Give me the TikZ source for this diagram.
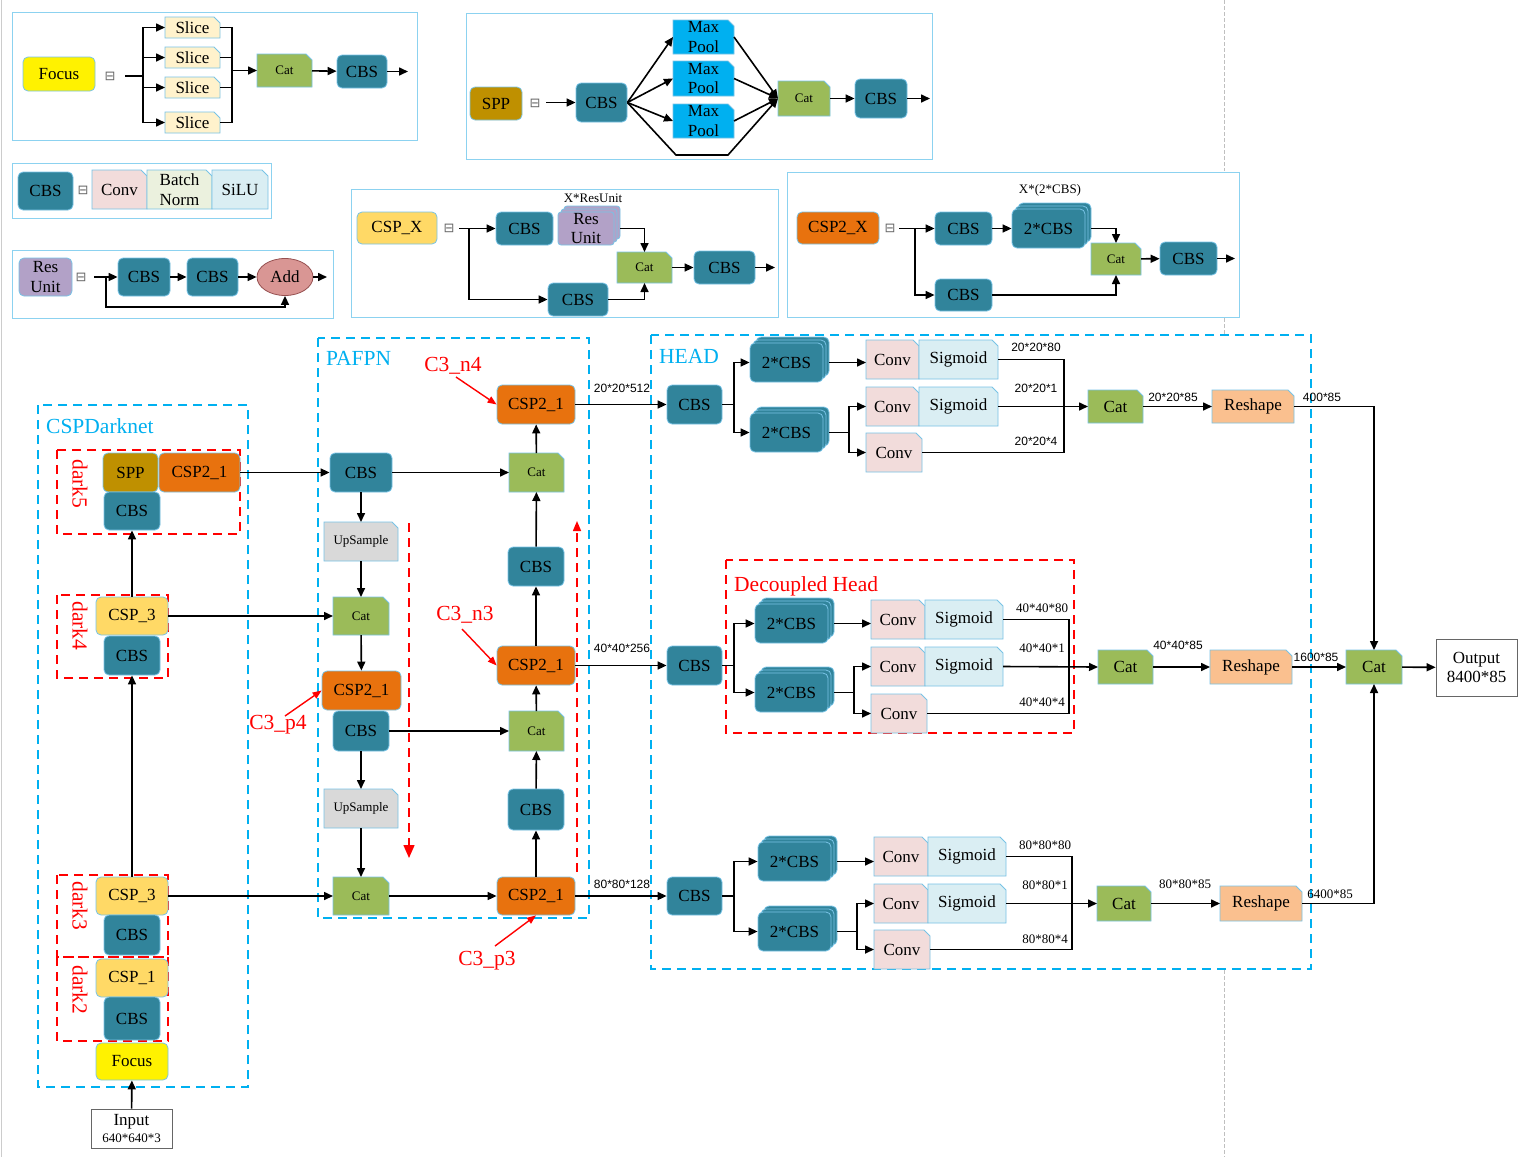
\documentclass[tikz,border=0pt]{standalone}
\usepackage{fontspec}
\setmainfont{Liberation Serif}
\newfontfamily\dimsans{Liberation Sans}
\newfontfamily\symfont{DejaVu Sans}
\usetikzlibrary{arrows.meta,shapes.geometric,calc}
\definecolor{cbsc}{RGB}{49,132,155}
\definecolor{catc}{RGB}{155,187,89}
\definecolor{slicec}{RGB}{255,242,204}
\definecolor{convc}{RGB}{242,220,219}
\definecolor{bnc}{RGB}{235,241,222}
\definecolor{sigc}{RGB}{218,238,243}
\definecolor{resc}{RGB}{178,161,199}
\definecolor{addc}{RGB}{217,150,148}
\definecolor{addb}{RGB}{150,80,80}
\definecolor{sppc}{RGB}{191,144,0}
\definecolor{mpc}{RGB}{0,176,240}
\definecolor{cspc}{RGB}{255,217,102}
\definecolor{csptwoc}{RGB}{232,114,14}
\definecolor{rshc}{RGB}{250,192,143}
\definecolor{upc}{RGB}{217,217,217}
\definecolor{dblue}{RGB}{0,176,240}
\definecolor{edgeb}{RGB}{120,195,230}
\definecolor{legb}{RGB}{140,210,240}
\newcommand\fm{\fontsize{17}{19.5}\selectfont}
\newcommand\fsm{\fontsize{13}{14}\selectfont}
\newcommand\fl{\fontsize{21.5}{23}\selectfont}
\tikzset{
 base/.style={draw=edgeb,line width=0.8pt,inner sep=1pt,align=center,font=\fm},
 cbs/.style={base,rounded corners=5pt,fill=cbsc},
 rbox/.style={base,rounded corners=5pt},
 arr/.style={line width=1.6pt,-{Triangle[length=9pt,width=8pt]}},
 ln/.style={line width=1.6pt},
 legbox/.style={draw=legb,line width=1pt},
 bdash/.style={draw=dblue,line width=1.5pt,dash pattern=on 9pt off 6pt},
 rdash/.style={draw=red,line width=1.5pt,dash pattern=on 9pt off 6pt},
 eqs/.style={font=\symfont\fontsize{13}{13}\selectfont,text=black!60,inner sep=0pt},
 dimlab/.style={font=\dimsans\fontsize{12}{13}\selectfont,inner sep=0pt},
 dimser/.style={font=\fontsize{13}{14}\selectfont,inner sep=0pt},
 bluelab/.style={text=dblue,font=\fl,inner sep=0pt,anchor=west},
 redlab/.style={text=red,font=\fl,inner sep=0pt},
 rarr/.style={draw=red,line width=1.4pt,-{Triangle[length=9pt,width=7pt]}},
}
% box node by corners
\newcommand\bx[7]{\node[#2,minimum width={#5-#3},minimum height={#6-#4}] (#1) at ({(#3+#5)/2},{(#4+#6)/2}) {#7};}
% card (folded corner) by corners
\newcommand\cd[8]{%
 \filldraw[fill=#2,draw=edgeb,line width=0.8pt] (#4,#5) -- ({#6-6},#5) -- (#6,{#5+6}) -- (#6,#7) -- (#4,#7) -- cycle;
 \node[inner sep=0pt,outer sep=0pt,align=center,font=#3,minimum width={#6-#4},minimum height={#7-#5}] (#1) at ({(#4+#6)/2},{(#5+#7)/2}) {#8};}
% stacked boxes
\newcommand\stk[7]{%
 \pgfmathsetmacro\stkw{#5-#3-6}\pgfmathsetmacro\stkh{#6-#4-6}%
 \pgfmathsetmacro\stkx{(#3+#5-6)/2}\pgfmathsetmacro\stky{(#4+#6+6)/2}%
 \node[#2,minimum width=\stkw pt,minimum height=\stkh pt] at (\stkx+6,\stky-6) {};
 \node[#2,minimum width=\stkw pt,minimum height=\stkh pt] at (\stkx+3,\stky-3) {};
 \node[#2,minimum width=\stkw pt,minimum height=\stkh pt] (#1) at (\stkx,\stky) {#7};
 \coordinate (#1-e) at (#5,\stky);}
\begin{document}
\begin{tikzpicture}[x=1pt,y=-1pt]
\fill[white] (0,0) rectangle (1523,1157);
\useasboundingbox (0,0) rectangle (1523,1157);
% page guide lines
\draw[black!20,line width=0.6pt] (1.5,0) -- (1.5,1157);
\draw[black!25,line width=0.6pt,dash pattern=on 4pt off 2pt] (1224,0) -- (1224,171);
\draw[black!25,line width=0.6pt,dash pattern=on 4pt off 2pt] (1224,318) -- (1224,334);
\draw[black!25,line width=0.6pt,dash pattern=on 4pt off 2pt] (1224,970) -- (1224,1157);

% ================= Focus legend
\draw[legbox] (12,12) rectangle (417,140);
\bx{lfoc}{rbox,fill=yellow}{23}{57}{95}{91}{Focus}
\node[eqs] (eq1) at (110,76) {⊟};
\coordinate (f0) at (125,76); \coordinate (fj) at (143,76);
\cd{sl1}{slicec}{\fm}{165}{17}{220}{38}{Slice}
\cd{sl2}{slicec}{\fm}{165}{47}{220}{68}{Slice}
\cd{sl3}{slicec}{\fm}{165}{77}{220}{98}{Slice}
\cd{sl4}{slicec}{\fm}{165}{112}{220}{133}{Slice}
\cd{lcat}{catc}{\fsm}{257}{54}{312}{87}{Cat}
\bx{lcbs}{cbs}{337}{55}{387}{88}{CBS}
\coordinate (sj) at (232,70.5); \coordinate (lout) at (408,71.5);
\draw[ln] (f0) -- (fj);
\foreach \s in {sl1,sl2,sl3,sl4} {\draw[arr] (fj) |- (\s.west); \draw[ln] (\s.east) -| (sj);}
\draw[arr] (sj) -- (lcat);
\draw[arr] (lcat) -- (lcbs);
\draw[arr] (lcbs) -- (lout);

% ================= CBS legend
\draw[legbox] (12,163) rectangle (271,218);
\bx{lc}{cbs}{18}{172}{73}{210}{CBS}
\node[eqs] (eq2) at (83,190) {⊟};
\cd{lconv}{convc}{\fm}{92}{170}{147}{209}{Conv}
\cd{lbn}{bnc}{\fm}{147}{170}{212}{209}{Batch\\Norm}
\cd{lsilu}{sigc}{\fm}{212}{170}{268}{209}{SiLU}

% ================= ResUnit legend
\draw[legbox] (12,250) rectangle (333,318);
\bx{lres}{rbox,fill=resc}{19}{258}{72}{296}{Res\\Unit}
\node[eqs] (eq3) at (81,277) {⊟};
\coordinate (rs) at (94,277); \coordinate (rj) at (106,277); \coordinate (rb) at (106,307);
\bx{rc1}{cbs}{118}{258}{170}{296}{CBS}
\bx{rc2}{cbs}{187}{258}{238}{296}{CBS}
\node[ellipse,draw=addb,fill=addc,line width=0.8pt,minimum width=56pt,minimum height=37pt,inner sep=0pt,font=\fm] (add) at (285,277) {Add};
\coordinate (rout) at (327,277);
\draw[arr] (rs) -- (rc1);
\draw[arr] (rc1) -- (rc2);
\draw[arr] (rc2) -- (add);
\draw[arr] (add) -- (rout);
\draw[arr] (rj) -- (rb) -| (add.south);

% ================= SPP legend
\draw[legbox] (466,13) rectangle (932,159);
\bx{lspp}{rbox,fill=sppc}{470}{87}{522}{120}{SPP}
\node[eqs] (eq4) at (535,103) {⊟};
\coordinate (sp0) at (546,102.5);
\bx{spc1}{cbs}{576}{83}{627}{122}{CBS}
\cd{mp1}{mpc}{\fm}{673}{20}{734}{54}{Max\\Pool}
\cd{mp2}{mpc}{\fm}{673}{61}{734}{96}{Max\\Pool}
\cd{mp3}{mpc}{\fm}{673}{104}{734}{138}{Max\\Pool}
\cd{spcat}{catc}{\fsm}{778}{81}{830}{116}{Cat}
\bx{spc2}{cbs}{855}{79}{907}{118}{CBS}
\coordinate (spo) at (930,98.5);
\coordinate (spb1) at (676,155); \coordinate (spb2) at (728,155);
\draw[arr] (sp0) -- (spc1);
\foreach \m in {mp1,mp2,mp3} {\draw[arr] (spc1.east) -- (\m.west); \draw[arr] (\m.east) -- (spcat.west);}
\draw[arr] (spc1.east) -- (spb1) -- (spb2) -- (spcat.west);
\draw[arr] (spcat) -- (spc2);
\draw[arr] (spc2) -- (spo);

% ================= CSP_X legend
\draw[legbox] (351,189) rectangle (778,317);
\bx{lcsp}{rbox,fill=cspc}{357}{212}{437}{244}{CSP\_X}
\node[eqs] (eq5) at (449,228) {⊟};
\coordinate (cx0) at (459,228.5); \coordinate (cxj) at (469,228.5);
\bx{cxc1}{cbs}{496}{212}{553}{245}{CBS}
\stk{cxres}{rbox,fill=resc,rounded corners=3pt}{558}{206}{620}{245}{Res\\Unit}
\node[font=\fsm,inner sep=0pt] (cxlab) at (593,198) {X*ResUnit};
\cd{cxcat}{catc}{\fsm}{617}{252}{672}{283}{Cat}
\bx{cxc2}{cbs}{548}{283}{608}{316}{CBS}
\bx{cxc3}{cbs}{694}{251}{755}{284}{CBS}
\coordinate (cxo) at (775,267.5);
\draw[ln] (cx0) -- (cxj);
\draw[arr] (cxj) -- (cxc1);
\draw[arr] (cxres-e) -| (cxcat.north);
\draw[arr] (cxj) |- (cxc2.west);
\draw[arr] (cxc2.east) -| (cxcat.south);
\draw[arr] (cxcat) -- (cxc3);
\draw[arr] (cxc3) -- (cxo);

% ================= CSP2_X legend
\draw[legbox] (787,172) rectangle (1239,317);
\bx{lcsp2}{rbox,fill=csptwoc}{797}{212}{879}{244}{CSP2\_X}
\node[eqs] (eq6) at (890,228) {⊟};
\coordinate (c20) at (899,228.5); \coordinate (c2j) at (915,228.5);
\bx{c2c1}{cbs}{935}{212}{992}{245}{CBS}
\stk{c2st}{cbs}{1012}{203}{1091}{248}{2*CBS}
\node[font=\fsm,inner sep=0pt] (c2lab) at (1050,190) {X*(2*CBS)};
\cd{c2cat}{catc}{\fsm}{1091}{243}{1141}{275}{Cat}
\bx{c2c2}{cbs}{935}{279}{992}{311}{CBS}
\bx{c2c3}{cbs}{1160}{242}{1217}{275}{CBS}
\coordinate (c2o) at (1235,258.5);
\draw[ln] (c20) -- (c2j);
\draw[arr] (c2j) -- (c2c1);
\draw[arr] (c2c1) -- (c2c1 -| c2st.west);
\draw[arr] (c2st-e) -| (c2cat.north);
\draw[arr] (c2j) |- (c2c2.west);
\draw[arr] (c2c2.east) -| (c2cat.south);
\draw[arr] (c2cat) -- (c2c3);
\draw[arr] (c2c3) -- (c2o);

% ================= CSPDarknet
\draw[bdash] (38,405) rectangle (248,1087);
\node[bluelab] (tcsp) at (46,426) {CSPDarknet};
\draw[rdash] (57,450) rectangle (240,534);
\draw[rdash] (57,595) rectangle (168,678);
\draw[rdash] (57,875) rectangle (168,957);
\draw[rdash] (57,957) rectangle (168,1041);
\node[redlab,rotate=-90] (dk5) at (80,484) {dark5};
\node[redlab,rotate=-90] (dk4) at (80,626) {dark4};
\node[redlab,rotate=-90] (dk3) at (80,906) {dark3};
\node[redlab,rotate=-90] (dk2) at (80,990) {dark2};
\bx{d5spp}{rbox,fill=sppc}{103}{453}{158}{492}{SPP}
\bx{d5csp}{rbox,fill=csptwoc}{159}{453}{240}{492}{CSP2\_1}
\bx{d5cbs}{cbs}{104}{492}{160}{530}{CBS}
\bx{d4csp}{rbox,fill=cspc}{96}{597}{168}{635}{CSP\_3}
\bx{d4cbs}{cbs}{104}{636}{160}{675}{CBS}
\bx{d3csp}{rbox,fill=cspc}{96}{877}{168}{915}{CSP\_3}
\bx{d3cbs}{cbs}{104}{915}{160}{955}{CBS}
\bx{d2csp}{rbox,fill=cspc}{96}{959}{168}{997}{CSP\_1}
\bx{d2cbs}{cbs}{104}{997}{160}{1040}{CBS}
\bx{foc}{rbox,fill=yellow}{96}{1043}{168}{1080}{Focus}
\node[draw=black!60,line width=0.8pt,inner sep=1pt,align=center,minimum width=81pt,minimum height=39pt,font=\fm] (inp) at (131.5,1128.5) {Input\\[-3pt]{\fsm 640*640*3}};
\draw[arr] (inp) -- (foc);
\draw[arr] (d3csp) -- (d4cbs);
\draw[arr] (d4csp) -- (d5cbs);

% ================= PAFPN
\draw[bdash] (318,338) rectangle (589,918);
\node[bluelab] (tpaf) at (326,358) {PAFPN};
\bx{pc1}{cbs}{330}{453}{392}{492}{CBS}
\cd{pu1}{upc}{\fsm}{324}{522}{398}{561}{UpSample}
\cd{pcat1}{catc}{\fsm}{333}{597}{389}{635}{Cat}
\bx{pcsp1}{rbox,fill=csptwoc}{322}{671}{401}{710}{CSP2\_1}
\bx{pc2}{cbs}{333}{711}{389}{751}{CBS}
\cd{pu2}{upc}{\fsm}{324}{789}{398}{828}{UpSample}
\cd{pcat2}{catc}{\fsm}{333}{877}{389}{915}{Cat}
\bx{nc4}{rbox,fill=csptwoc}{497}{385}{575}{424}{CSP2\_1}
\cd{ncat4}{catc}{\fsm}{509}{453}{564}{492}{Cat}
\bx{ncbs4}{cbs}{508}{547}{564}{586}{CBS}
\bx{nc3}{rbox,fill=csptwoc}{497}{646}{575}{685}{CSP2\_1}
\cd{ncat3}{catc}{\fsm}{509}{711}{564}{751}{Cat}
\bx{ncbs3}{cbs}{508}{789}{564}{830}{CBS}
\bx{np3}{rbox,fill=csptwoc}{497}{877}{575}{915}{CSP2\_1}
\draw[arr] (d5csp) -- (pc1);
\draw[arr] (d4csp) -- (pcat1);
\draw[arr] (d3csp) -- (pcat2);
\draw[arr] (pc1) -- (pu1);
\draw[arr] (pu1) -- (pcat1);
\draw[arr] (pcat1) -- (pcsp1);
\draw[arr] (pc2) -- (pu2);
\draw[arr] (pu2) -- (pcat2);
\draw[arr] (pc1) -- (ncat4);
\draw[arr] (pc2) -- (ncat3);
\draw[arr] (pcat2) -- (np3);
\draw[arr] (np3) -- (ncbs3);
\draw[arr] (ncbs3) -- (ncat3);
\draw[arr] (ncat3) -- (nc3);
\draw[arr] (nc3) -- (ncbs4);
\draw[arr] (ncbs4) -- (ncat4);
\draw[arr] (ncat4) -- (nc4);
\coordinate (rd1a) at (409,523); \coordinate (rd1b) at (409,858);
\coordinate (rd2a) at (577,872); \coordinate (rd2b) at (577,521);
\draw[rdash,-{Triangle[length=13pt,width=11pt]}] (rd1a) -- (rd1b);
\draw[rdash,-{Triangle[length=10pt,width=8pt]}] (rd2a) -- (rd2b);
\node[redlab] (ln4) at (453,366) {C3\_n4};
\node[redlab] (ln3) at (465,615) {C3\_n3};
\node[redlab] (lp4) at (278,725) {C3\_p4};
\node[redlab] (lp3) at (487,961) {C3\_p3};
\coordinate (ln4s) at (456,377); \coordinate (ln3s) at (462,629);
\coordinate (lp4s) at (285,716); \coordinate (lp3s) at (495,946);
\draw[rarr] (ln4s) -- (nc4.west);
\draw[rarr] (ln3s) -- (nc3.west);
\draw[rarr] (lp4s) -- (pcsp1.west);
\draw[rarr] (lp3s) -- (np3.south);
\node[dimlab] (dm1) at (622,388) {20*20*512};
\node[dimlab] (dm2) at (622,648) {40*40*256};
\node[dimlab] (dm3) at (622,884) {80*80*128};

% ================= HEAD
\draw[bdash] (651,335) rectangle (1311,969);
\node[bluelab] (thead) at (659,356) {HEAD};
% row 1
\bx{hc1}{cbs}{667}{385}{722}{424}{CBS}
\stk{ht1}{cbs}{750}{337}{829}{382}{2*CBS}
\stk{hb1}{cbs}{750}{407}{829}{452}{2*CBS}
\cd{hcv1}{convc}{\fm}{866}{340}{919}{379}{Conv}
\cd{hsg1}{sigc}{\fm}{919}{340}{998}{379}{Sigmoid}
\cd{hcv2}{convc}{\fm}{866}{387}{919}{426}{Conv}
\cd{hsg2}{sigc}{\fm}{919}{387}{998}{426}{Sigmoid}
\cd{hcv3}{convc}{\fm}{866}{433}{922}{472}{Conv}
\cd{hcat1}{catc}{\fm}{1088}{390}{1143}{423}{Cat}
\cd{hrs1}{rshc}{\fm}{1212}{390}{1294}{423}{Reshape}
\coordinate (hj1) at (734,404.5); \coordinate (hj2) at (849,432.5); \coordinate (hr1) at (1064,406.5);
\draw[ln] (hc1) -- (hj1);
\draw[arr] (hj1) |- (ht1.west);
\draw[arr] (hj1) |- (hb1.west);
\draw[arr] (ht1-e) -- (ht1-e -| hcv1.west);
\draw[ln] (hb1-e) -- (hj2);
\draw[arr] (hj2) |- (hcv2.west);
\draw[arr] (hj2) |- (hcv3.west);
\draw[ln] (hsg1.east) -| (hr1);
\draw[ln] (hcv3.east) -| (hr1);
\draw[arr] (hsg2.east) -- (hcat1.west);
\draw[arr] (hcat1) -- (hrs1);
\node[dimlab] (hd1) at (1036,347) {20*20*80};
\node[dimlab] (hd2) at (1036,388) {20*20*1};
\node[dimlab] (hd3) at (1036,441) {20*20*4};
\node[dimlab] (hd4) at (1173,397) {20*20*85};
\node[dimlab] (hd5) at (1322,397) {400*85};
% row 2
\draw[rdash] (726,560) rectangle (1074,733);
\node[redlab,anchor=west] (tdec) at (734,586) {Decoupled Head};
\bx{hc2}{cbs}{667}{646}{722}{685}{CBS}
\stk{mt}{cbs}{755}{598}{834}{643}{2*CBS}
\stk{mb}{cbs}{755}{667}{834}{712}{2*CBS}
\cd{mcv1}{convc}{\fm}{871}{600}{925}{639}{Conv}
\cd{msg1}{sigc}{\fm}{925}{600}{1003}{639}{Sigmoid}
\cd{mcv2}{convc}{\fm}{871}{647}{925}{686}{Conv}
\cd{msg2}{sigc}{\fm}{925}{647}{1003}{686}{Sigmoid}
\cd{mcv3}{convc}{\fm}{871}{694}{927}{733}{Conv}
\cd{mcat}{catc}{\fm}{1098}{650}{1153}{684}{Cat}
\cd{mrs}{rshc}{\fm}{1210}{650}{1292}{684}{Reshape}
\cd{fcat}{catc}{\fm}{1346}{650}{1402}{684}{Cat}
\node[draw=black!60,line width=0.8pt,inner sep=1pt,align=center,minimum width=81pt,minimum height=57pt,font=\fm] (outp) at (1476.5,667.5) {Output\\8400*85};
\coordinate (mj1) at (734,665.5); \coordinate (mj2) at (854,692.5); \coordinate (mr1) at (1069,666.5);
\draw[ln] (hc2) -- (mj1);
\draw[arr] (mj1) |- (mt.west);
\draw[arr] (mj1) |- (mb.west);
\draw[arr] (mt-e) -- (mt-e -| mcv1.west);
\draw[ln] (mb-e) -- (mj2);
\draw[arr] (mj2) |- (mcv2.west);
\draw[arr] (mj2) |- (mcv3.west);
\draw[ln] (msg1.east) -| (mr1);
\draw[ln] (mcv3.east) -| (mr1);
\draw[arr] (msg2.east) -- (mcat.west);
\draw[arr] (mcat) -- (mrs);
\draw[arr] (mrs) -- (fcat);
\draw[arr] (fcat) -- (outp);
\node[dimser] (md1) at (1042,608) {40*40*80};
\node[dimser] (md2) at (1042,648) {40*40*1};
\node[dimser] (md3) at (1042,702) {40*40*4};
\node[dimlab] (md4) at (1178,645) {40*40*85};
\node[dimlab] (md5) at (1316,657) {1600*85};
% row 3
\bx{hc3}{cbs}{667}{877}{722}{915}{CBS}
\stk{bt}{cbs}{758}{836}{837}{881}{2*CBS}
\stk{bb}{cbs}{758}{906}{837}{951}{2*CBS}
\cd{bcv1}{convc}{\fm}{874}{837}{928}{876}{Conv}
\cd{bsg1}{sigc}{\fm}{928}{837}{1006}{876}{Sigmoid}
\cd{bcv2}{convc}{\fm}{874}{884}{928}{923}{Conv}
\cd{bsg2}{sigc}{\fm}{928}{884}{1006}{923}{Sigmoid}
\cd{bcv3}{convc}{\fm}{874}{930}{930}{969}{Conv}
\cd{bcat}{catc}{\fm}{1097}{886}{1151}{921}{Cat}
\cd{brs}{rshc}{\fm}{1220}{886}{1302}{921}{Reshape}
\coordinate (bj1) at (734,896); \coordinate (bj2) at (857,931.5); \coordinate (br1) at (1072,903.5);
\draw[ln] (hc3) -- (bj1);
\draw[arr] (bj1) |- (bt.west);
\draw[arr] (bj1) |- (bb.west);
\draw[arr] (bt-e) -- (bt-e -| bcv1.west);
\draw[ln] (bb-e) -- (bj2);
\draw[arr] (bj2) |- (bcv2.west);
\draw[arr] (bj2) |- (bcv3.west);
\draw[ln] (bsg1.east) -| (br1);
\draw[ln] (bcv3.east) -| (br1);
\draw[arr] (bsg2.east) -- (bcat.west);
\draw[arr] (bcat) -- (brs);
\node[dimser] (bd1) at (1045,845) {80*80*80};
\node[dimser] (bd2) at (1045,885) {80*80*1};
\node[dimser] (bd3) at (1045,939) {80*80*4};
\node[dimser] (bd4) at (1185,884) {80*80*85};
\node[dimser] (bd5) at (1330,894) {6400*85};
% links PAFPN -> HEAD -> output
\draw[arr] (nc4) -- (hc1);
\draw[arr] (nc3) -- (hc2);
\draw[arr] (np3) -- (hc3);
\draw[arr] (hrs1.east) -| (fcat.north);
\draw[arr] (brs.east) -| (fcat.south);
\end{tikzpicture}
\end{document}
